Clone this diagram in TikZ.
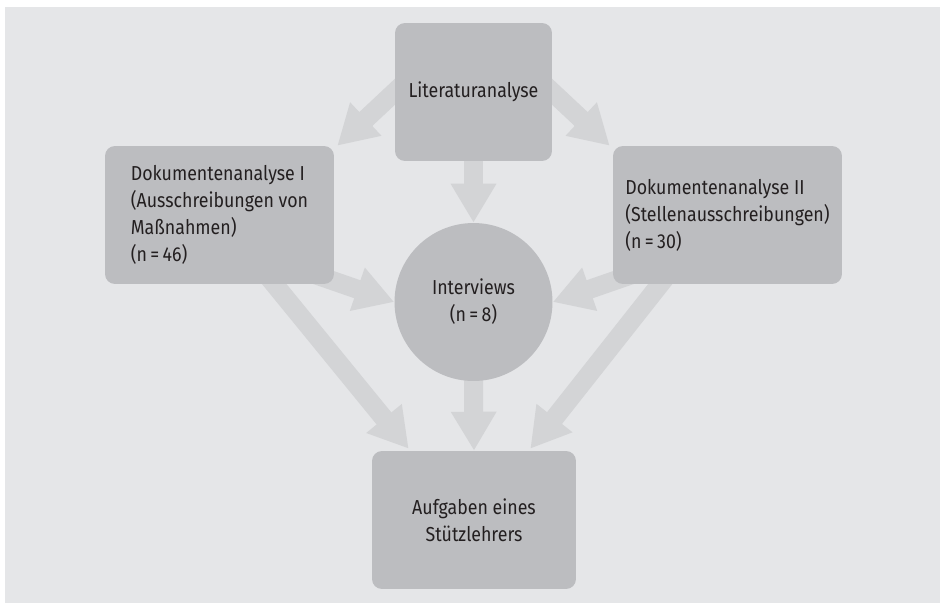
\documentclass[tikz,border=0pt]{standalone}
\usepackage{fontspec}
\setmainfont{Fira Sans}[FakeStretch=0.88]
\usetikzlibrary{arrows.meta,backgrounds}
\definecolor{bggray}{HTML}{E5E6E8}
\definecolor{boxgray}{HTML}{BCBDC0}
\definecolor{arrowgray}{HTML}{D3D4D6}
\definecolor{textgray}{HTML}{231F20}
\tikzset{
  box/.style={fill=boxgray, rounded corners=0.2cm, minimum height=2.76cm, text=textgray, inner sep=0pt},
  fatarrow/.style={draw=arrowgray, line width=0.38cm, -{Triangle[width=0.86cm,length=0.78cm]}, shorten <=-0.4cm}
}
\begin{document}
\begin{tikzpicture}[x=0.02cm, y=-0.02cm, font=\fontsize{11.5}{15.3}\selectfont]
			\useasboundingbox (0,0) rectangle (940,606);
			\begin{scope}[on background layer]
				\fill[bggray] (5,7) rectangle (940,603);
			\end{scope}
			\node[box, minimum width=3.14cm] (lit) at (473.5,92) {Literaturanalyse};
			\node[box, minimum width=4.58cm, align=left] (doku1) at (219.5,215) {Dokumentenanalyse I\\(Ausschreibungen von\\Maßnahmen)\\(n\,=\,46)};
			\node[box, minimum width=4.58cm, align=left] (doku2) at (727.5,215) {Dokumentenanalyse II\\(Stellenausschreibungen)\\(n\,=\,30)};
			\node[box, circle, minimum size=3.16cm, align=center] (interviews) at (473.5,302) {Interviews\\(n\,=\,8)};
			\node[box, minimum width=4.08cm, align=center] (aufgaben) at (474,520) {Aufgaben eines\\Stützlehrers};
			\begin{scope}[on background layer]
				\draw[fatarrow] (lit.west) -- ([xshift=0.06cm]doku1.north east);
				\draw[fatarrow] (lit.east) -- ([xshift=-0.06cm]doku2.north west);
				\draw[fatarrow] (lit.south) -- (interviews.north);
				\draw[fatarrow] ([xshift=-0.4cm,yshift=0.2cm]doku1.south east) -- (interviews.west);
				\draw[fatarrow] ([xshift=0.4cm,yshift=0.2cm]doku2.south west) -- (interviews.east);
				\draw[fatarrow] ([xshift=1.1cm]doku1.south) -- ([xshift=0.74cm,yshift=0.04cm]aufgaben.north west);
				\draw[fatarrow] ([xshift=-1.35cm]doku2.south) -- ([xshift=-0.92cm,yshift=0.04cm]aufgaben.north east);
				\draw[fatarrow] (interviews.south) -- (aufgaben.north);
			\end{scope}
		\end{tikzpicture}
\end{document}
